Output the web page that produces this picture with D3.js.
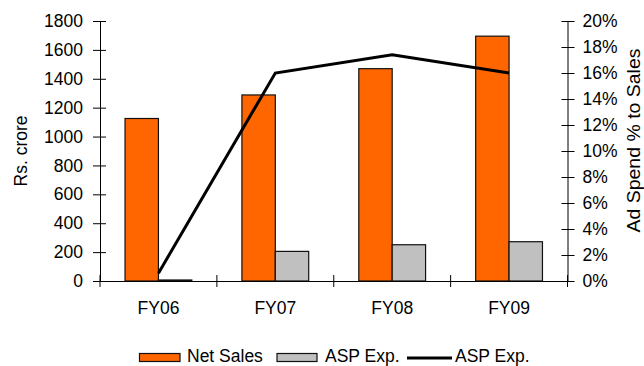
<!DOCTYPE html>
<html>
<head>
<meta charset="utf-8">
<script src="https://cdn.jsdelivr.net/npm/d3@7"></script>
<style>
  html, body { margin: 0; padding: 0; background: #fff; }
  svg { display: block; }
  text { font-family: "Liberation Sans", Arial, sans-serif; fill: #000; }
</style>
</head>
<body>
<svg id="chart" width="644" height="366"></svg>
<script>
const categories = ["FY06", "FY07", "FY08", "FY09"];
const netSales = [1125, 1288, 1470, 1695];
const aspExp = [7, 205, 251, 272];
const adSpendPct = [0.6, 16.0, 17.4, 16.0];
const leftTicks = [0, 200, 400, 600, 800, 1000, 1200, 1400, 1600, 1800];
const rightTicks = [0, 2, 4, 6, 8, 10, 12, 14, 16, 18, 20];
const seriesNames = ["Net Sales", "ASP Exp.", "ASP Exp."];

(function () {
const svg = d3.select("#chart");
const pLeft = 100, pRight = 567.5, pTop = 21, pBottom = 281;

const x0 = d3.scaleBand().domain(categories).range([pLeft, pRight]).paddingInner(0).paddingOuter(0);
const x1 = d3.scaleBand().domain(["sales", "asp"]).range([0, x0.bandwidth()]).paddingInner(0).paddingOuter(0.75);
const yL = d3.scaleLinear().domain([0, 1800]).range([pBottom, pTop]);
const yR = d3.scaleLinear().domain([0, 20]).range([pBottom, pTop]);

const fs = 17.5;
const ff = "Liberation Sans, Arial, sans-serif";

// Left axis
const gL = svg.append("g").attr("transform", `translate(${pLeft},0)`)
  .call(d3.axisLeft(yL).tickValues(leftTicks).tickFormat(d3.format("d")).tickSize(0).tickPadding(17));
gL.select(".domain").attr("stroke", "#000").attr("stroke-width", 1);
gL.selectAll(".tick text").attr("font-size", fs).attr("font-family", ff).attr("fill", "#000");
gL.selectAll(".tick").append("line").attr("x1", -7).attr("x2", 6).attr("stroke", "#000");

// Right axis
const gR = svg.append("g").attr("transform", `translate(${pRight},0)`)
  .call(d3.axisRight(yR).tickValues(rightTicks).tickFormat(d => d + "%").tickSize(0).tickPadding(15));
gR.select(".domain").attr("stroke", "#000").attr("stroke-width", 1);
gR.selectAll(".tick text").attr("font-size", fs).attr("font-family", ff).attr("fill", "#000");
gR.selectAll(".tick").append("line").attr("x1", -6).attr("x2", 7).attr("stroke", "#000");

// Bars
const groups = svg.append("g").selectAll("g").data(categories).join("g")
  .attr("transform", d => `translate(${x0(d)},0)`);
groups.append("rect")
  .attr("x", x1("sales")).attr("width", x1.bandwidth())
  .attr("y", (d, i) => yL(netSales[i])).attr("height", (d, i) => yL(0) - yL(netSales[i]))
  .attr("fill", "#FF6600").attr("stroke", "#111").attr("stroke-width", 1.2);
groups.append("rect")
  .attr("x", x1("asp")).attr("width", x1.bandwidth())
  .attr("y", (d, i) => yL(aspExp[i])).attr("height", (d, i) => yL(0) - yL(aspExp[i]))
  .attr("fill", "#C0C0C0").attr("stroke", "#111").attr("stroke-width", 1.2);

// Category axis
const gB = svg.append("g").attr("transform", `translate(0,${pBottom})`)
  .call(d3.axisBottom(x0).tickSize(0).tickPadding(21));
gB.select(".domain").attr("stroke", "#000").attr("stroke-width", 1);
gB.selectAll(".tick text").attr("font-size", fs).attr("font-family", ff).attr("fill", "#000");
const boundaries = categories.map(c => x0(c)).concat([x0(categories[categories.length - 1]) + x0.bandwidth()]);
gB.selectAll(".bt").data(boundaries).join("line").attr("class", "bt")
  .attr("x1", d => d).attr("x2", d => d).attr("y1", -6).attr("y2", 6).attr("stroke", "#000");

// Line
const line = d3.line()
  .x((d, i) => x0(categories[i]) + x0.bandwidth() / 2)
  .y(d => yR(d));
svg.append("path").datum(adSpendPct).attr("d", line)
  .attr("fill", "none").attr("stroke", "#000").attr("stroke-width", 3);

// Axis titles
svg.append("text").attr("transform", `translate(27,151) rotate(-90)`)
  .attr("text-anchor", "middle").attr("font-size", fs).text("Rs. crore");
svg.append("text").attr("transform", `translate(639.5,140.5) rotate(-90)`)
  .attr("text-anchor", "middle").attr("font-size", fs)
  .attr("textLength", 184).attr("lengthAdjust", "spacingAndGlyphs")
  .text("Ad Spend % to Sales");

// Legend
const lg = svg.append("g");
const ly = 362;
lg.append("rect").attr("x", 139.5).attr("y", 353.5).attr("width", 40.5).attr("height", 8)
  .attr("fill", "#FF6600").attr("stroke", "#111").attr("stroke-width", 1.2);
lg.append("text").attr("x", 187).attr("y", ly).attr("font-size", fs).text(seriesNames[0]);
lg.append("rect").attr("x", 277).attr("y", 353.5).attr("width", 40).attr("height", 8)
  .attr("fill", "#C0C0C0").attr("stroke", "#111").attr("stroke-width", 1.2);
lg.append("text").attr("x", 325).attr("y", ly).attr("font-size", fs).text(seriesNames[1]);
lg.append("line").attr("x1", 407).attr("x2", 452).attr("y1", 358).attr("y2", 358)
  .attr("stroke", "#000").attr("stroke-width", 3);
lg.append("text").attr("x", 455).attr("y", ly).attr("font-size", fs).text(seriesNames[2]);
})();
</script>
</body>
</html>
